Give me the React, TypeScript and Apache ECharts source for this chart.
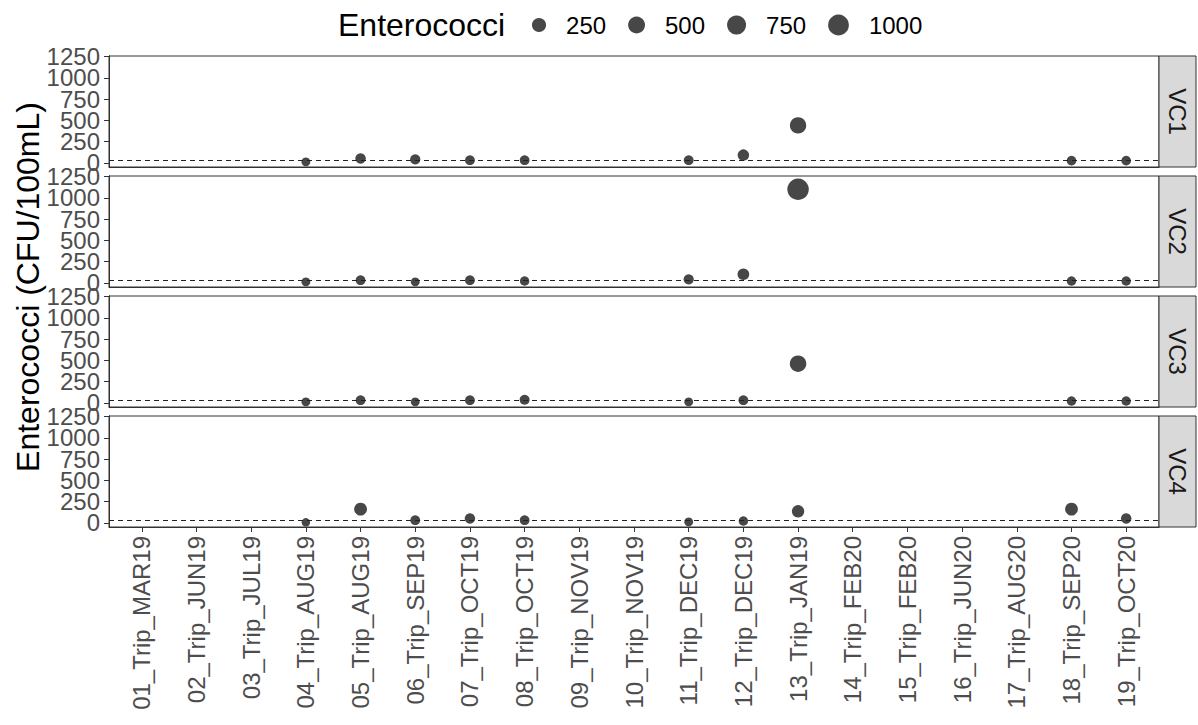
import React, { useEffect, useRef } from "react";
import * as echarts from "echarts";

const categories = [
  "01_Trip_MAR19", "02_Trip_JUN19", "03_Trip_JUL19", "04_Trip_AUG19", "05_Trip_AUG19",
  "06_Trip_SEP19", "07_Trip_OCT19", "08_Trip_OCT19", "09_Trip_NOV19", "10_Trip_NOV19",
  "11_Trip_DEC19", "12_Trip_DEC19", "13_Trip_JAN19", "14_Trip_FEB20", "15_Trip_FEB20",
  "16_Trip_JUN20", "17_Trip_AUG20", "18_Trip_SEP20", "19_Trip_OCT20",
];

const panelNames = ["VC1", "VC2", "VC3", "VC4"];
const vc1 = [null, null, null, 10, 50, 40, 30, 30, null, null, 30, 90, 440, null, null, null, null, 25, 25];
const vc2 = [null, null, null, 10, 30, 10, 30, 20, null, null, 40, 100, 1100, null, null, null, null, 20, 20];
const vc3 = [null, null, null, 10, 30, 10, 30, 35, null, null, 10, 30, 460, null, null, null, null, 20, 20];
const vc4 = [null, null, null, 5, 160, 30, 50, 30, null, null, 10, 20, 135, null, null, null, null, 160, 50];

const yTicks = [0, 250, 500, 750, 1000, 1250];
const legendValues = [250, 500, 750, 1000];
const threshold = 35;

const FONT = '"Liberation Sans", Arial, Helvetica, sans-serif';
const POINT = "#474747";
const BORDER = "#333333";

function sizeOf(v: number): number {
  return 7.5 + 0.42 * Math.sqrt(Math.max(v, 0));
}

export default function App() {
  const ref = useRef<HTMLDivElement>(null);

  useEffect(() => {
    const chart = echarts.init(ref.current as HTMLDivElement, null, { renderer: "svg" });
    const values = [vc1, vc2, vc3, vc4];
    const LEFT = 109;
    const RIGHT_EDGE = 1159;
    const TOP0 = 56;
    const H = 111;
    const PITCH = 120;
    const last = panelNames.length - 1;
    const xIdx = categories.map((_, k) => k);
    const tickSets = [
      yTicks.filter((_, k) => k % 2 === 0),
      yTicks.filter((_, k) => k % 2 === 1),
    ];

    const grids = panelNames.map((_, i) => ({
      left: LEFT,
      top: TOP0 + i * PITCH,
      width: RIGHT_EDGE - LEFT,
      height: H,
      show: true,
      borderColor: BORDER,
      borderWidth: 1,
      backgroundColor: "#ffffff",
    }));

    const xAxes = panelNames.map((_, i) => ({
      type: "value",
      gridIndex: i,
      position: "bottom",
      min: -0.6,
      max: categories.length - 1 + 0.6,
      axisLine: { show: true, onZero: false, lineStyle: { color: BORDER, width: 1 } },
      splitLine: { show: false },
      axisTick: {
        show: i === last,
        customValues: xIdx,
        length: 5,
        lineStyle: { color: BORDER, width: 1 },
      },
      axisLabel: {
        show: i === last,
        customValues: xIdx,
        formatter: (v: number) => categories[Math.round(v)] ?? "",
        rotate: 90,
        fontSize: 24,
        color: "#4d4d4d",
        fontFamily: FONT,
        margin: 9,
        hideOverlap: false,
      },
    }));

    const yAxes: any[] = [];
    panelNames.forEach((_, i) => {
      tickSets.forEach((ticks) => {
        yAxes.push({
          type: "value",
          gridIndex: i,
          position: "left",
          offset: 0,
          min: -50,
          max: 1257,
          axisLine: { show: true, onZero: false, lineStyle: { color: BORDER, width: 1 } },
          splitLine: { show: false },
          axisTick: {
            show: true,
            customValues: ticks,
            length: 5,
            lineStyle: { color: BORDER, width: 1 },
          },
          axisLabel: {
            show: true,
            customValues: ticks,
            formatter: (v: number) => String(v),
            fontSize: 24,
            color: "#4d4d4d",
            fontFamily: FONT,
            margin: 9,
            hideOverlap: false,
          },
        });
      });
    });

    const series: any[] = [];
    panelNames.forEach((name, i) => {
      series.push({
        type: "scatter",
        name: name + "-threshold",
        xAxisIndex: i,
        yAxisIndex: 2 * i,
        data: [],
        z: 1,
        silent: true,
        markLine: {
          silent: true,
          symbol: ["none", "none"],
          label: { show: false },
          lineStyle: { type: [5, 4], color: "#222222", width: 1 },
          data: [{ yAxis: threshold }],
        },
      });
      const data = values[i]
        .map((v, k) => (v == null ? null : [k, v]))
        .filter((d) => d !== null);
      series.push({
        type: "scatter",
        name,
        xAxisIndex: i,
        yAxisIndex: 2 * i,
        data,
        z: 3,
        symbol: "circle",
        symbolSize: (val: number[]) => sizeOf(val[1]),
        itemStyle: { color: POINT, opacity: 1 },
      });
    });

    const graphics: any[] = [];
    panelNames.forEach((name, i) => {
      const top = TOP0 + i * PITCH;
      graphics.push({
        type: "rect",
        shape: { x: RIGHT_EDGE, y: top, width: 37, height: H },
        style: { fill: "#d9d9d9", stroke: BORDER, lineWidth: 1 },
        z: 10,
      });
      graphics.push({
        type: "text",
        x: RIGHT_EDGE + 18.5,
        y: top + H / 2,
        rotation: -Math.PI / 2,
        style: {
          text: name,
          fontSize: 24,
          fontFamily: FONT,
          fill: "#1a1a1a",
          align: "center",
          verticalAlign: "middle",
        },
        z: 11,
      });
    });
    graphics.push({
      type: "text",
      x: 28,
      y: 287,
      rotation: Math.PI / 2,
      style: {
        text: "Enterococci (CFU/100mL)",
        fontSize: 32,
        fontFamily: FONT,
        fill: "#000000",
        align: "center",
        verticalAlign: "middle",
      },
    });
    graphics.push({
      type: "text",
      x: 338,
      y: 25,
      style: {
        text: "Enterococci",
        fontSize: 32,
        fontFamily: FONT,
        fill: "#000000",
        align: "left",
        verticalAlign: "middle",
      },
    });
    let cx = 539;
    legendValues.forEach((v, k) => {
      const d = sizeOf(v);
      graphics.push({
        type: "circle",
        shape: { cx, cy: 25, r: d / 2 },
        style: { fill: POINT },
      });
      const label = String(v);
      graphics.push({
        type: "text",
        x: cx + d / 2 + 20,
        y: 25,
        style: {
          text: label,
          fontSize: 24,
          fontFamily: FONT,
          fill: "#000000",
          align: "left",
          verticalAlign: "middle",
        },
      });
      if (k < legendValues.length - 1) {
        const labelW = label.length * 13.35;
        cx = cx + d / 2 + 20 + labelW + 22 + sizeOf(legendValues[k + 1]) / 2;
      }
    });

    chart.setOption({
      animation: false,
      backgroundColor: "#ffffff",
      grid: grids,
      xAxis: xAxes,
      yAxis: yAxes,
      series,
      graphic: graphics,
    });

    return () => {
      chart.dispose();
    };
  }, []);

  return (
    <div
      ref={ref}
      style={{ position: "fixed", left: 0, top: 0, width: 1198, height: 725 }}
    />
  );
}
